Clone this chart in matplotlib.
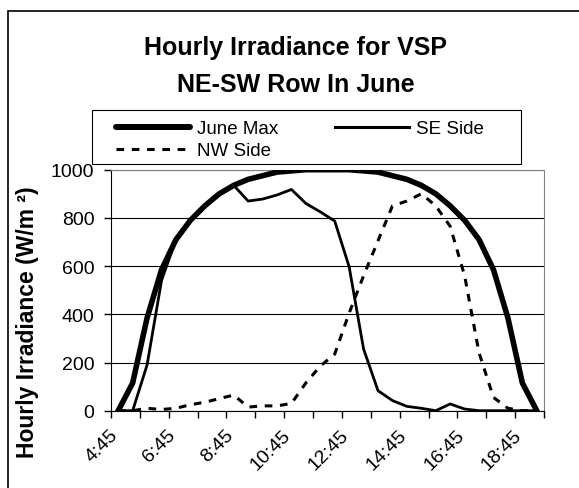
import matplotlib
matplotlib.use('Agg')
import matplotlib.pyplot as plt
import matplotlib.transforms as mtransforms
from matplotlib.patches import Rectangle
from matplotlib.lines import Line2D

plt.rcParams['font.family'] = ['Liberation Sans', 'DejaVu Sans']

times = ['4:45', '5:15', '5:45', '6:15', '6:45', '7:15', '7:45', '8:15', '8:45', '9:15',
         '9:45', '10:15', '10:45', '11:15', '11:45', '12:15', '12:45', '13:15', '13:45', '14:15',
         '14:45', '15:15', '15:45', '16:15', '16:45', '17:15', '17:45', '18:15', '18:45', '19:15']

june_max = [0, 115, 385, 585, 710, 790, 850, 900, 935, 960,
            975, 990, 995, 1000, 1000, 1000, 1000, 995, 990, 975,
            960, 935, 900, 850, 790, 710, 585, 385, 115, 0]

se_side = [0, 0, 190, 540, 710, 790, 850, 900, 935, 870,
           878, 895, 918, 860, 825, 787, 597, 256, 83, 42,
           18, 10, 0, 28, 7, 0, 0, 0, 0, 0]

nw_side = [0, 0, 10, 5, 10, 25, 35, 50, 65, 15,
           20, 20, 30, 115, 185, 235, 405, 560, 705, 850,
           870, 900, 850, 765, 560, 240, 55, 10, 0, 0]

W, H = 579, 489
fig = plt.figure(figsize=(W / 100, H / 100), dpi=100)
ax = fig.add_axes([111 / W, 1 - 411.7 / H, (544 - 111) / W, (411.7 - 170.7) / H])

x = range(len(times))
ax.plot(x, june_max, color='black', lw=4.0, solid_joinstyle='round', label='June Max', zorder=3)
ax.plot(x, se_side, color='black', lw=2.0, label='SE Side', zorder=4)
ax.plot(x, nw_side, color='black', lw=2.2, dashes=(2.5, 2.5), label='NW Side', zorder=4)

ax.set_xlim(-0.5, len(times) - 0.5)
ax.set_ylim(0, 1000)
ax.set_yticks(range(0, 1001, 200))
ax.yaxis.grid(True, color='black', lw=0.8)
ax.set_axisbelow(True)

ax.set_xticks(range(0, len(times), 4))
ax.set_xticklabels(times[::4])
ax.set_xticks([i - 0.5 for i in range(0, len(times) + 1, 2)], minor=True)
ax.tick_params(axis='x', which='major', length=0, pad=11, labelsize=14)
ax.tick_params(axis='x', which='minor', length=5, direction='out', width=1)
ax.tick_params(axis='y', length=5, direction='out', width=1, pad=7, labelsize=14)

shift = mtransforms.ScaledTranslation(-0.09, 0, fig.dpi_scale_trans)
for lab in ax.get_xticklabels():
    lab.set_rotation(45)
    lab.set_ha('right')
    lab.set_va('top')
    lab.set_rotation_mode('anchor')
    lab.set_transform(lab.get_transform() + shift)

for s in ['top', 'right']:
    ax.spines[s].set_color('#808080')
for s in ['left', 'bottom']:
    ax.spines[s].set_color('black')

fig.text(295 / W, 1 - 48 / H, 'Hourly Irradiance for VSP', ha='center', va='center',
         fontsize=18, fontweight='bold')
fig.text(296 / W, 1 - 85 / H, 'NE-SW Row In June', ha='center', va='center',
         fontsize=18, fontweight='bold')

fig.text(27.7 / W, 1 - 322 / H, 'Hourly Irradiance (W/m ²)', rotation=90, ha='center',
         va='center', fontsize=16.5, fontweight='bold')

# legend frame drawn separately so the box can sit where the original does
fig.add_artist(Rectangle((91.6 / W, 1 - 165 / H), 429.1 / W, 54.2 / H, transform=fig.transFigure,
                         fill=False, edgecolor='black', lw=0.8))
handles = [
    Line2D([], [], color='black', lw=4.3, solid_capstyle='round'),
    Line2D([], [], color='black', lw=2.2, dashes=(2.5, 2.5)),
    Line2D([], [], color='black', lw=2.2),
]
fig.legend(handles, ['June Max', 'NW Side', 'SE Side'], ncol=2, frameon=False,
           loc='upper left', bbox_to_anchor=(116 / W, 1 - 121 / H), fontsize=13.5,
           handlelength=3.95, handletextpad=0.37, columnspacing=3.0, labelspacing=0.27,
           borderpad=0, borderaxespad=0)

# outer chart border (cropped on the right and bottom in the original)
fig.add_artist(Rectangle((8 / W, -0.5), 2, 1.5 - 12 / H, transform=fig.transFigure,
                         fill=False, edgecolor='black', lw=1.2))

fig.savefig('out.png', dpi=100)
